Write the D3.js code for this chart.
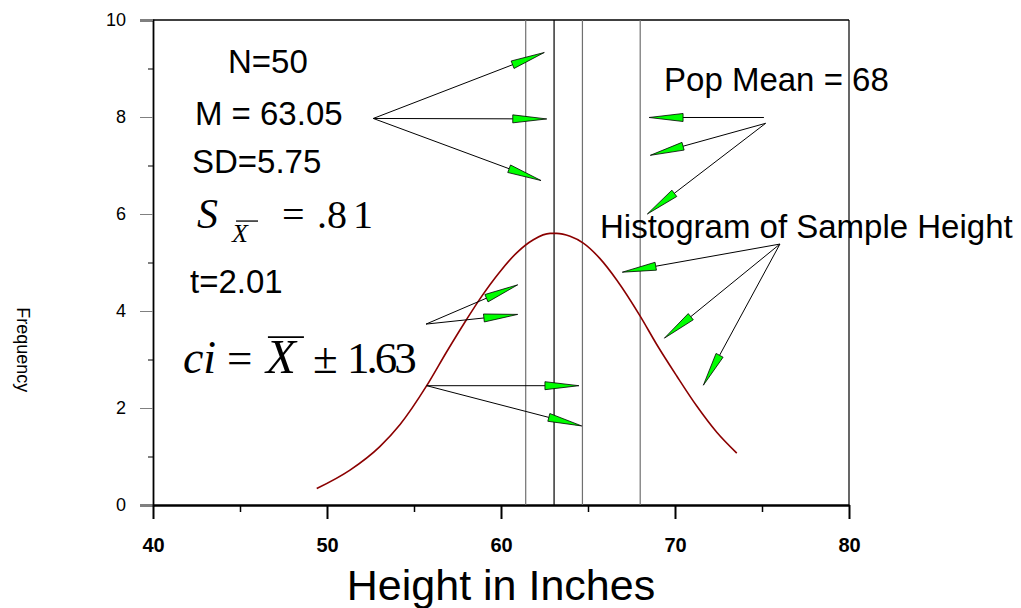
<!DOCTYPE html>
<html>
<head>
<meta charset="utf-8">
<script src="https://cdn.jsdelivr.net/npm/d3@7"></script>
<style>
  body { margin: 0; background: #fff; }
  text { font-family: Arial, "Liberation Sans", sans-serif; }
  .serif { font-family: "Times New Roman", "Liberation Serif", serif; }
</style>
</head>
<body>
<div id="chart"></div>
<script>
// Chart data
const xTicks = [40, 50, 60, 70, 80];
const xMinor = [45, 55, 65, 75];
const yTicks = [0, 2, 4, 6, 8, 10];
const yMinor = [1, 3, 5, 7, 9];

// normal curve drawn over the sample
const curveX = [49.41, 51.32, 53.05, 54.2, 55.73, 56.88, 58.03, 58.79, 59.94, 60.9, 61.86, 62.82, 63.2, 63.97, 64.73, 65.69, 66.65, 67.99, 68.95, 70.1, 71.25, 72.4, 73.55];
const curveY = [0.34, 0.72, 1.21, 1.66, 2.46, 3.16, 3.83, 4.25, 4.81, 5.2, 5.47, 5.6, 5.6, 5.54, 5.4, 5.08, 4.64, 3.9, 3.31, 2.66, 2.04, 1.5, 1.07];

// lower ci, sample mean, upper ci, population mean
const refLines = [61.42, 63.05, 64.68, 68];
const refColors = ["#707070", "#000", "#707070", "#707070"];

// arrows [fromX, fromY, toX, toY] in data units
const arrows = [
  [52.66, 7.97, 62.49, 9.33],
  [52.66, 7.97, 62.63, 7.96],
  [52.66, 7.97, 62.30, 6.69],
  [75.11, 7.99, 68.51, 7.99],
  [75.21, 7.87, 68.58, 7.21],
  [75.21, 7.87, 68.41, 6.00],
  [76.03, 5.38, 66.97, 4.80],
  [76.03, 5.38, 69.39, 3.44],
  [76.03, 5.38, 71.63, 2.47],
  [55.69, 3.73, 60.96, 4.54],
  [55.69, 3.73, 60.96, 3.93],
  [55.73, 2.46, 64.48, 2.46],
  [55.73, 2.46, 64.64, 1.63]
];

// plain text notes [text, x, y]
const notes = [
  ["N=50", 44.31, 8.91],
  ["M = 63.05", 42.41, 7.84],
  ["SD=5.75", 42.24, 6.84],
  ["t=2.01", 42.13, 4.37],
  ["Pop Mean = 68", 69.37, 8.54],
  ["Histogram of Sample Height", 65.69, 5.50]
];

const margin = { top: 20, right: 172, bottom: 103, left: 153 },
    width = 1021 - margin.left - margin.right,
    height = 608 - margin.top - margin.bottom;

const svg = d3.select("#chart")
    .append("svg")
    .attr("width", width + margin.left + margin.right)
    .attr("height", height + margin.top + margin.bottom)
    .append("g")
    .attr("transform", `translate(${margin.left},${margin.top})`);

const x = d3.scaleLinear().domain([40, 80]).range([0, width]);
const y = d3.scaleLinear().domain([0, 10]).range([height, 0]);

// frame (top and right)
svg.append("line")
    .attr("x1", 0).attr("x2", width).attr("y1", 0).attr("y2", 0)
    .attr("stroke", "#000").attr("stroke-width", 1.5);
svg.append("line")
    .attr("x1", width).attr("x2", width).attr("y1", 0).attr("y2", height)
    .attr("stroke", "#000").attr("stroke-width", 1.2);

// Y axis
const yAxis = svg.append("g")
    .call(d3.axisLeft(y).tickValues(yTicks).tickSize(13).tickPadding(14).tickFormat(d3.format("d")));
yAxis.select(".domain").attr("stroke-width", 1.8);
yAxis.selectAll(".tick line").attr("stroke", "#808080");
yAxis.selectAll(".tick text")
    .attr("font-size", 18)
    .attr("font-family", "Arial, 'Liberation Sans', sans-serif");
svg.append("g")
    .call(d3.axisLeft(y).tickValues(yMinor).tickSize(5).tickFormat(""))
    .select(".domain").remove();

// X axis
const xAxis = svg.append("g")
    .attr("transform", `translate(0,${height})`)
    .call(d3.axisBottom(x).tickValues(xTicks).tickSize(14).tickPadding(19).tickSizeOuter(0));
xAxis.select(".domain").attr("stroke-width", 2.5);
xAxis.selectAll(".tick line").attr("stroke-width", 2);
xAxis.selectAll(".tick text")
    .attr("font-size", 20)
    .attr("font-weight", "bold")
    .attr("font-family", "Arial, 'Liberation Sans', sans-serif");
svg.append("g")
    .attr("transform", `translate(0,${height})`)
    .call(d3.axisBottom(x).tickValues(xMinor).tickSize(7).tickFormat(""))
    .call(g => g.select(".domain").remove())
    .selectAll(".tick line").attr("stroke-width", 1.5);

// axis titles
svg.append("text")
    .attr("x", x(60))
    .attr("y", height + 95)
    .attr("text-anchor", "middle")
    .attr("font-size", 43)
    .text("Height in Inches");

svg.append("text")
    .attr("transform", `translate(${-136},${height * 0.68}) rotate(90)`)
    .attr("text-anchor", "middle")
    .attr("font-size", 18)
    .text("Frequency");

// reference lines
refLines.forEach((v, i) => {
    svg.append("line")
        .attr("x1", x(v)).attr("x2", x(v))
        .attr("y1", 0).attr("y2", height)
        .attr("stroke", refColors[i])
        .attr("stroke-width", 1.2);
});

// curve
const curve = curveX.map((v, i) => [v, curveY[i]]);
svg.append("path")
    .datum(curve)
    .attr("fill", "none")
    .attr("stroke", "#8b0000")
    .attr("stroke-width", 1.6)
    .attr("d", d3.line().x(d => x(d[0])).y(d => y(d[1])).curve(d3.curveMonotoneX));

// arrows with long green heads
arrows.forEach(a => {
    const x0 = x(a[0]), y0 = y(a[1]), x1 = x(a[2]), y1 = y(a[3]);
    const len = Math.hypot(x1 - x0, y1 - y0);
    const ux = (x1 - x0) / len, uy = (y1 - y0) / len;
    const hl = 34, hw = 4;
    const bx = x1 - ux * hl, by = y1 - uy * hl;
    svg.append("line")
        .attr("x1", x0).attr("y1", y0).attr("x2", bx).attr("y2", by)
        .attr("stroke", "#000").attr("stroke-width", 1);
    svg.append("path")
        .attr("d", `M${x1},${y1}L${bx - uy * hw},${by + ux * hw}L${bx + uy * hw},${by - ux * hw}Z`)
        .attr("fill", "#00ff00")
        .attr("stroke", "#000")
        .attr("stroke-width", 0.8);
});

// text notes
notes.forEach(n => {
    svg.append("text")
        .attr("x", x(n[1]))
        .attr("y", y(n[2]))
        .attr("font-size", 33)
        .text(n[0]);
});

// standard error formula
const sx = x(42.53), sy = y(5.71);
const se = svg.append("g");
se.append("text").attr("class", "serif").attr("x", sx).attr("y", sy)
    .attr("font-size", 42).attr("font-style", "italic").text("S");
se.append("text").attr("class", "serif").attr("x", sx + 35).attr("y", sy + 14)
    .attr("font-size", 26).attr("font-style", "italic").text("X");
se.append("line").attr("x1", sx + 39).attr("x2", sx + 61).attr("y1", sy - 7).attr("y2", sy - 7)
    .attr("stroke", "#222").attr("stroke-width", 1.5);
se.append("text").attr("class", "serif").attr("x", sx + 85).attr("y", sy)
    .attr("font-size", 40).text("=");
se.append("text").attr("class", "serif").attr("x", sx + 120).attr("y", sy)
    .attr("font-size", 40).text(".8");
se.append("text").attr("class", "serif").attr("x", sx + 156).attr("y", sy)
    .attr("font-size", 40).text("1");

// confidence interval formula
const cx = x(41.72), cy = y(2.72);
const ci = svg.append("g");
ci.append("text").attr("class", "serif").attr("x", cx).attr("y", cy)
    .attr("font-size", 46).attr("font-style", "italic").text("ci");
ci.append("text").attr("class", "serif").attr("x", cx + 44).attr("y", cy)
    .attr("font-size", 45).text("=");
ci.append("text").attr("class", "serif").attr("x", cx + 83).attr("y", cy)
    .attr("font-size", 49).attr("font-style", "italic").text("X");
ci.append("line").attr("x1", cx + 85).attr("x2", cx + 121).attr("y1", cy - 36).attr("y2", cy - 36)
    .attr("stroke", "#000").attr("stroke-width", 1.6);
ci.append("text").attr("class", "serif").attr("x", cx + 130).attr("y", cy)
    .attr("font-size", 45).text("±");
ci.append("text").attr("class", "serif").attr("x", cx + 164).attr("y", cy)
    .attr("font-size", 45).attr("letter-spacing", -3).text("1.63");
</script>
</body>
</html>
